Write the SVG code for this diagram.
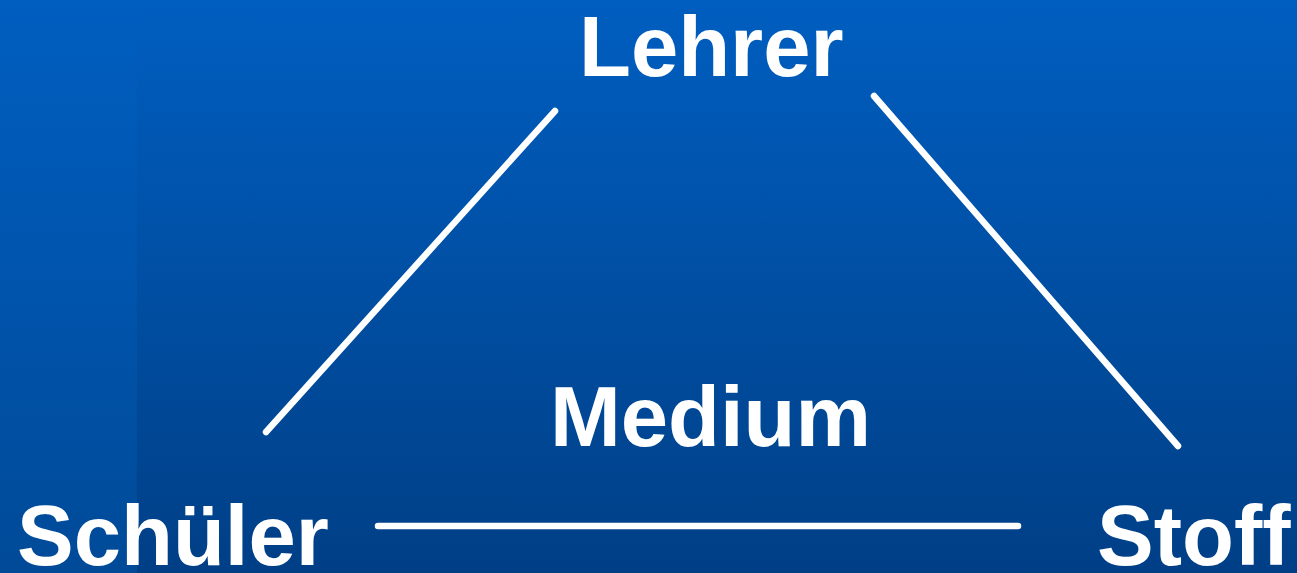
<svg xmlns="http://www.w3.org/2000/svg" width="1297" height="573" viewBox="0 0 1297 573">
<defs>
<linearGradient id="bg" x1="0" y1="0" x2="0" y2="1">
<stop offset="0" stop-color="#005EC0"/>
<stop offset="1" stop-color="#003F86"/>
</linearGradient>
<linearGradient id="bgl" x1="0" y1="0" x2="0" y2="1">
<stop offset="0" stop-color="#005EC0"/>
<stop offset="1" stop-color="#004A98"/>
</linearGradient>
</defs>
<style>
.lbl{font-family:"Liberation Sans",Arial,sans-serif;font-weight:bold;font-size:85px;fill:#FFFFFF}
.conn line{stroke:#FFFFFF;stroke-width:6.5;stroke-linecap:round}
</style>
<rect x="0" y="0" width="1297" height="573" fill="url(#bg)"/>
<rect x="0" y="0" width="137" height="573" fill="url(#bgl)"/>
<g id="connectors" class="conn">
<line x1="555" y1="111" x2="266" y2="432"/>
<line x1="874" y1="96" x2="1178" y2="446"/>
<line x1="378" y1="526" x2="1018" y2="526"/>
</g>
<g id="lehrer"><text class="lbl" x="579" y="76">Lehrer</text></g>
<g id="medium"><text class="lbl" x="550" y="446">Medium</text></g>
<g id="schueler"><text class="lbl" x="17" y="565">Schüler</text></g>
<g id="stoff"><text class="lbl" x="1097" y="565">Stoff</text></g>
</svg>
